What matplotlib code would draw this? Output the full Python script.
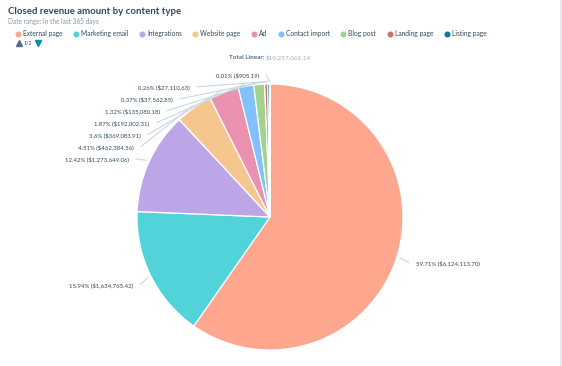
#!/usr/bin/env python3
import numpy as np
import matplotlib
matplotlib.use('Agg')
import matplotlib.pyplot as plt
from matplotlib.lines import Line2D

# data
categories = ['External page', 'Marketing email', 'Integrations', 'Website page', 'Ad',
              'Contact import', 'Blog post', 'Landing page', 'Listing page', 'Other']
revenue = [6124113.70, 1634765.42, 1273649.06, 462384.56, 369083.91,
           192002.31, 135080.18, 37562.85, 27110.63, 905.19]
pct_labels = ['59.71%', '15.94%', '12.42%', '4.51%', '3.6%',
              '1.87%', '1.32%', '0.37%', '0.26%', '0.01%']
total_label = '$10,257,061.14'
legend_shown = categories[:9]
colors = ['#fea68e', '#51d3d9', '#bda6e8', '#f5c78e', '#ea90b1',
          '#81c1fd', '#a2d28f', '#d0706c', '#00808d', '#6a5a9c']

DARK = '#33475b'
GREY = '#7c98b6'
plt.rcParams['font.family'] = ['Lato', 'DejaVu Sans']

W, H = 562, 366
fig = plt.figure(figsize=(W / 100, H / 100), dpi=100)

# pie centre and radius in pixels
cx, cy, rad = 270, 217, 133
ax = fig.add_axes([0, 0, 1, 1])
ax.pie(revenue, colors=colors, startangle=90, counterclock=False,
       wedgeprops=dict(edgecolor='white', linewidth=0.9))
ax.set_xlim(-cx / rad, (W - cx) / rad)
ax.set_ylim(-(H - cy) / rad, cy / rad)
ax.set_aspect('auto')
ax.axis('off')

# data labels, highcharts-like placement
R = 1.15
gap = 0.09
top_lim = 1.068
fr = np.array(revenue) / sum(revenue)
cum = np.cumsum(fr) - fr / 2
theta = np.deg2rad(90 - cum * 360)
ax_pts = np.cos(theta)
ay_pts = np.sin(theta)

texts = [f'{p} (${v:,.2f})' for p, v in zip(pct_labels, revenue)]
left = [i for i in range(len(revenue)) if ax_pts[i] < 0]

ly = {i: R * ay_pts[i] for i in range(len(revenue))}
# stack left labels from the top down
left_sorted = sorted(left, key=lambda i: -ly[i])
prev = None
for i in left_sorted:
    y = min(ly[i], top_lim)
    if prev is not None:
        y = min(y, prev - gap)
    ly[i] = y
    prev = y

for i in range(len(revenue)):
    y = ly[i]
    xc = np.sqrt(max(R ** 2 - y ** 2, 0))
    if i in left:
        x = -xc
        if y > 1.05:
            x = max(x, ax_pts[i] - 0.08)
        ha = 'right'
        xe = x + 0.05
    else:
        x = xc
        ha = 'left'
        xe = x - 0.05
    ax.plot([1.02 * ax_pts[i], xe], [1.02 * ay_pts[i], y], color='#cbd6e2', lw=0.8,
            solid_capstyle='butt')
    ax.text(x, y, texts[i], ha=ha, va='center', fontsize=4.3, color=DARK)

# title etc
fig.text(8 / W, 1 - 11 / H, 'Closed revenue amount by content type', fontsize=6.9,
         fontweight='bold', color=DARK, va='center', ha='left')
fig.text(8 / W, 1 - 21.5 / H, 'Date range: In the last 365 days', fontsize=4.7,
         color=GREY, va='center', ha='left')

t1 = fig.text(0, 1 - 59 / H, 'Total Linear: ', fontsize=4.6, fontweight='bold',
              color='#516f90', va='baseline', ha='left')
t2 = fig.text(0, 1 - 59 / H, total_label, fontsize=4.6, color='#99afc4',
              va='baseline', ha='left')
fig.canvas.draw()
rend = fig.canvas.get_renderer()
w1 = t1.get_window_extent(rend).width
w2 = t2.get_window_extent(rend).width
x0 = cx - (w1 + w2) / 2
t1.set_x(x0 / W)
t2.set_x((x0 + w1) / W)

# legend row
lx = 18
ly_leg = 1 - 33.5 / H
for name, col in zip(legend_shown, colors):
    fig.add_artist(Line2D([lx / W], [ly_leg], marker='o', markersize=3.3, color=col,
                          linestyle='none', transform=fig.transFigure))
    t = fig.text((lx + 5) / W, ly_leg, name, fontsize=4.8, color=DARK, va='center', ha='left')
    tw = t.get_window_extent(rend).width
    lx = lx + 5 + tw + 13.5

# pager
fig.add_artist(Line2D([19 / W], [1 - 43 / H], marker='^', markersize=4, color='#516f90',
                      linestyle='none', transform=fig.transFigure))
fig.text(24 / W, 1 - 43 / H, '1/2', fontsize=3.8, color=DARK, va='center', ha='left')
fig.add_artist(Line2D([38 / W], [1 - 42.5 / H], marker='v', markersize=4.5, color='#0091ae',
                      linestyle='none', transform=fig.transFigure))

# panel border on the right
fig.add_artist(Line2D([560.5 / W, 560.5 / W], [0, 1], color='#e3e8ee', lw=1.2,
                      transform=fig.transFigure))

fig.savefig('out.png', dpi=100)
